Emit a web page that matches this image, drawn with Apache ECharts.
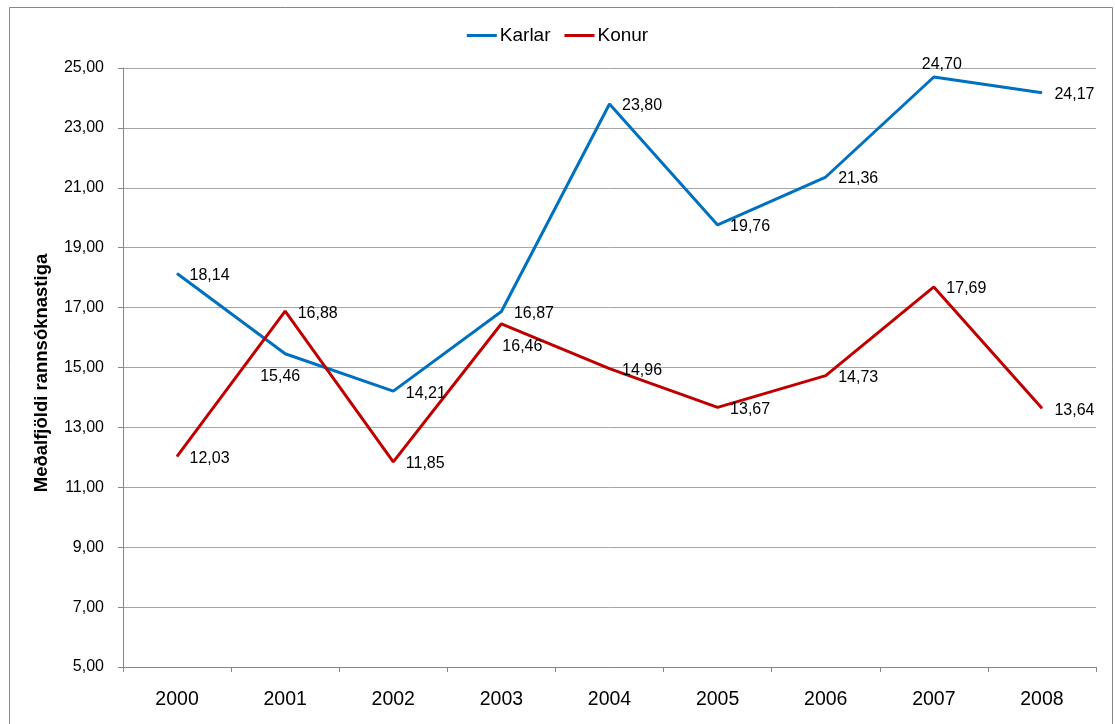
<!DOCTYPE html>
<html>
<head>
<meta charset="utf-8">
<script src="https://cdn.jsdelivr.net/npm/echarts@6/dist/echarts.min.js"></script>
<style>
html,body{margin:0;padding:0;background:#fff;}
#chart{width:1115px;height:724px;}
</style>
</head>
<body>
<div id="chart"></div>
<script>
// ---- data ----
var categories = ['2000','2001','2002','2003','2004','2005','2006','2007','2008'];
var karlar = [18.14, 15.46, 14.21, 16.87, 23.80, 19.76, 21.36, 24.70, 24.17];
var konur  = [12.03, 16.88, 11.85, 16.46, 14.96, 13.67, 14.73, 17.69, 13.64];
var seriesNames = ['Karlar', 'Konur'];
var yAxisTitle = 'Meðalfjöldi rannsóknastiga';

// ---- label placement (styling, not data) ----
var labelOverrides = {
  'Karlar': { 1: {position:'bottom', distance: 14, offset:[-5,0]}, 7: {position:'top', distance: 4, offset:[8,0]} },
  'Konur':  { 3: {position:'bottom', distance: 14, offset:[21,0]} }
};

function fmt(v){ return v.toFixed(2).replace('.', ','); }
var FONT = '"Liberation Sans", Arial, sans-serif';

function buildData(name, arr){
  var ov = labelOverrides[name] || {};
  return arr.map(function(v, i){
    var d = { value: v };
    if (ov[i]) d.label = ov[i];
    return d;
  });
}

function makeSeries(name, arr, color){
  return {
    name: name,
    type: 'line',
    data: buildData(name, arr),
    symbol: 'circle',
    symbolSize: 1,
    showSymbol: true,
    lineStyle: { color: color, width: 3 },
    itemStyle: { color: color },
    emphasis: { disabled: true },
    animation: false,
    label: {
      show: true,
      position: 'right',
      distance: 12,
      offset: [0, 2],
      color: '#000',
      fontFamily: FONT,
      fontSize: 16,
      formatter: function(p){ return fmt(p.value); }
    }
  };
}

var chart = echarts.init(document.getElementById('chart'), null, {renderer:'canvas'});
chart.setOption({
  backgroundColor: '#fff',
  animation: false,
  graphic: [{
    type: 'rect',
    shape: { x: 9.5, y: 7.5, width: 1103, height: 740 },
    style: { fill: 'none', stroke: '#868686', lineWidth: 1 },
    silent: true
  }],
  legend: {
    top: 21,
    left: 'center',
    itemWidth: 30,
    itemHeight: 3,
    itemGap: 14,
    icon: 'rect',
    textStyle: { color: '#000', fontFamily: FONT, fontSize: 19, padding: [0,0,0,-2] },
    data: seriesNames
  },
  grid: { left: 123, top: 68, right: 19, bottom: 57, containLabel: false },
  xAxis: {
    type: 'category',
    data: categories,
    boundaryGap: true,
    axisLine: { lineStyle: { color: '#868686', width: 1 } },
    axisTick: { show: true, length: 5, alignWithLabel: false, lineStyle: { color: '#868686' } },
    axisLabel: { color: '#000', fontFamily: FONT, fontSize: 19.5, margin: 23 },
    splitLine: { show: false }
  },
  yAxis: {
    type: 'value',
    min: 5, max: 25, interval: 2,
    name: yAxisTitle,
    nameLocation: 'middle',
    nameRotate: 90,
    nameGap: 72,
    nameTextStyle: { color: '#000', fontFamily: FONT, fontSize: 18.5, fontWeight: 'bold', padding: [0, 11, 0, 0] },
    axisLine: { show: true, lineStyle: { color: '#868686', width: 1 } },
    axisTick: { show: true, length: 5, lineStyle: { color: '#868686' } },
    axisLabel: { color: '#000', fontFamily: FONT, fontSize: 16, margin: 19, formatter: function(v){ return fmt(v); } },
    splitLine: { show: true, lineStyle: { color: '#a6a6a6', width: 1 } }
  },
  series: [
    makeSeries(seriesNames[0], karlar, '#0070C0'),
    makeSeries(seriesNames[1], konur, '#C00000')
  ]
});
</script>
</body>
</html>
